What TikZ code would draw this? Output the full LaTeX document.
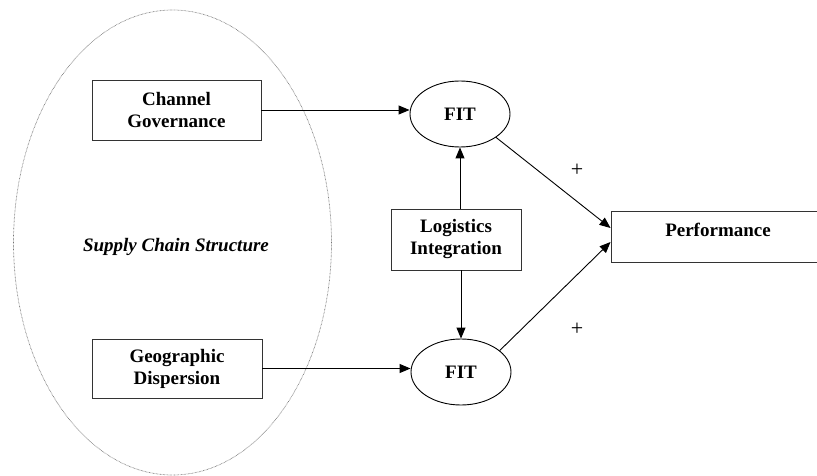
\documentclass[tikz,border=0pt]{standalone}
\usepackage{fontspec}
\setmainfont{Liberation Serif}
\usetikzlibrary{arrows.meta,shapes.geometric}
\begin{document}
\begin{tikzpicture}[x=1pt,y=-1pt,
  lbl/.style={font=\fontsize{19}{22}\selectfont\bfseries, align=center, inner sep=0pt},
  boxnode/.style={lbl, draw, line width=0.9pt, draw=black!80, text=black},
  fitnode/.style={lbl, draw, ellipse, line width=0.9pt, minimum width=100pt, minimum height=66pt},
  arr/.style={line width=0.9pt, -{Triangle[length=11pt,width=9pt]}},
  plain/.style={font=\fontsize{22}{24}\selectfont, inner sep=0pt}]
\clip (0,0) rectangle (817,476);
\useasboundingbox (0,0) rectangle (817,476);
% supply chain ellipse
\node[draw=black!55, ellipse, line width=0.7pt, dash pattern=on 0.6pt off 0.8pt,
  minimum width=318pt, minimum height=465pt] (scs) at (172.5,242.5) {};
\node[lbl, font=\fontsize{19}{22}\selectfont\bfseries\itshape] (scslbl) at (176,247) {Supply Chain Structure};
% boxes
\node[boxnode, minimum width=169pt, minimum height=60pt] (cg) at (176.5,110) {Channel\\Governance};
\node[boxnode, minimum width=170pt, minimum height=59pt] (gd) at (177,368.5) {Geographic\\Dispersion};
\node[boxnode, minimum width=130pt, minimum height=61pt] (li) at (456,239.5) {Logistics\\Integration};
\node[fitnode] (fit1) at (460,114) {FIT};
\node[fitnode] (fit2) at (461,372) {FIT};
\node[draw=black!80, line width=0.9pt, minimum width=214pt, minimum height=51pt, inner sep=0pt] (perf) at (718,236.5) {};
\node[lbl] (perflbl) at (718,230) {Performance};
% arrows
\draw[arr] (cg.east) -- (cg.east -| fit1.west);
\draw[arr] (gd.east) -- (gd.east -| fit2.west);
\draw[arr] (fit1.south |- li.north) -- (fit1.south);
\draw[arr] (fit2.north |- li.south) -- (fit2.north);
\draw[arr] (fit1.-33) -- ([yshift=8.5pt]perf.west);
\draw[arr] (fit2.29) -- ([yshift=-5.5pt]perf.west);
% plus signs
\node[plain] (p1) at (577,170) {+};
\node[plain] (p2) at (577,329) {+};
\end{tikzpicture}
\end{document}
